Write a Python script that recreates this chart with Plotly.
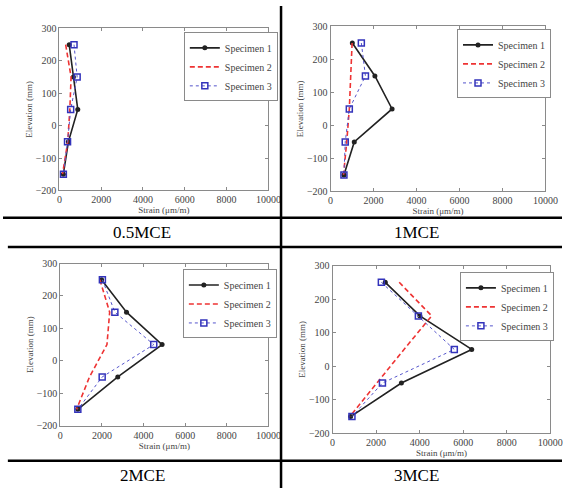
import plotly.graph_objects as go

elev = [250, 150, 50, -50, -150]
panels = ["0.5MCE", "1MCE", "2MCE", "3MCE"]
spec_names = ["Specimen 1", "Specimen 2", "Specimen 3"]

s1 = {
    "0.5MCE": [470, 670, 880, 430, 190],
    "1MCE": [1010, 2060, 2860, 1100, 620],
    "2MCE": [1980, 3180, 4890, 2760, 840],
    "3MCE": [2420, 4010, 6390, 3160, 830],
}
s2 = {
    "0.5MCE": [300, 560, 500, 400, 150],
    "1MCE": [1000, 950, 870, 750, 600],
    "2MCE": [1900, 2370, 2240, 1400, 780],
    "3MCE": [3060, 4550, 3280, 2040, 790],
}
s3 = {
    "0.5MCE": [700, 850, 540, 390, 190],
    "1MCE": [1430, 1620, 870, 680, 620],
    "2MCE": [2020, 2620, 4490, 2010, 840],
    "3MCE": [2240, 3940, 5590, 2290, 890],
}

W, H = 575, 494
# plot-area pixel boxes (left, right, top, bottom)
boxes = [(58, 273, 23, 189), (337, 558, 21, 190), (59, 273, 264, 430), (339, 563, 266, 438)]
legpos = [(186, 27), (467, 24), (185, 270), (470, 273)]
labelpos = [(143, 232), (425, 232), (143, 481), (425, 481)]

FONT = "Liberation Serif"
GRAY = "#8a8a8a"
TXT = "#444444"


def serif(s):
    return f'<span style="font-family:{FONT}">{s}</span>'


fig = go.Figure()
layout = dict(width=W, height=H, margin=dict(l=0, r=0, t=0, b=0),
              paper_bgcolor="white", plot_bgcolor="white", showlegend=True,
              font=dict(family=FONT, size=10, color=TXT))

for i, p in enumerate(panels):
    k = "" if i == 0 else str(i + 1)
    l, r, t, b = boxes[i]
    lg = "legend" if i == 0 else f"legend{i+1}"
    xa, ya = f"x{k}", f"y{k}"
    styles = [
        dict(name=serif(spec_names[0]), x=s1[p], mode="lines+markers",
             line=dict(color="#222222", width=1.6),
             marker=dict(symbol="circle", size=5, color="#222222")),
        dict(name=serif(spec_names[1]), x=s2[p], mode="lines",
             line=dict(color="#ee3333", width=1.6, dash="5px,3px")),
        dict(name=serif(spec_names[2]), x=s3[p], mode="lines+markers",
             line=dict(color="#5555cc", width=1, dash="dot"),
             marker=dict(symbol="square-open", size=6, color="#3333bb",
                         line=dict(width=1.5))),
    ]
    for st in styles:
        fig.add_trace(go.Scatter(y=elev, xaxis=xa, yaxis=ya, legend=lg, **st))
    axcommon = dict(showgrid=False, zeroline=False, showline=True, linecolor=GRAY,
                    linewidth=1, mirror="ticks", ticks="inside", ticklen=3,
                    tickcolor=GRAY, tickformat="d")
    layout[f"xaxis{k}"] = dict(domain=[l / W, r / W], anchor=ya, range=[0, 10000],
                               dtick=2000,
                               title=dict(text="Strain (μm/m)", standoff=2,
                                          font=dict(family=FONT, size=9, color=TXT)),
                               **axcommon)
    layout[f"yaxis{k}"] = dict(domain=[1 - b / H, 1 - t / H], anchor=xa, range=[-200, 300],
                               dtick=100,
                               title=dict(text="Elevation (mm)", standoff=1,
                                          font=dict(family=FONT, size=9, color=TXT)),
                               **axcommon)
    lx, ly = legpos[i]
    layout[lg] = dict(x=lx / W, y=1 - ly / H, xanchor="left", yanchor="top",
                      bgcolor="white", bordercolor=GRAY, borderwidth=1,
                      tracegroupgap=0, itemwidth=30)

fig.update_layout(**layout)

shapes = []
lw = 2.5
shapes.append(dict(type="line", xref="paper", yref="paper", x0=286 / W, x1=286 / W,
                   y0=0, y1=1, line=dict(color="black", width=lw)))
for yy, x0 in [(217, 0), (247, 5 / W), (466, 5 / W)]:
    shapes.append(dict(type="line", xref="paper", yref="paper", x0=x0, x1=1,
                       y0=1 - yy / H, y1=1 - yy / H, line=dict(color="black", width=lw)))
fig.update_layout(shapes=shapes)

for i, p in enumerate(panels):
    x, y = labelpos[i]
    fig.add_annotation(text=p, xref="paper", yref="paper", x=x / W, y=1 - y / H,
                       showarrow=False, xanchor="center", yanchor="middle",
                       font=dict(family=FONT, size=17, color="black"))

fig.write_html("out.html")
